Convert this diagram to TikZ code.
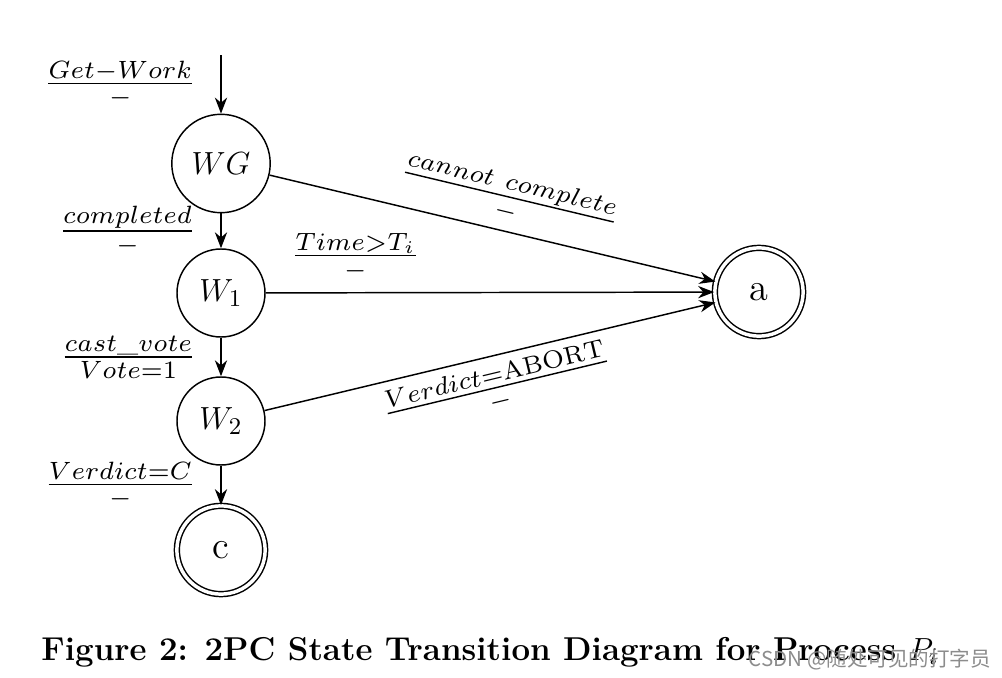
\documentclass[tikz,border=0pt]{standalone}
\usepackage{amsmath}
\usepackage{graphicx}
\usepackage{fontspec}
\newfontfamily\cjk{Noto Sans CJK SC}
\usetikzlibrary{arrows.meta}
\newcommand{\lab}[2]{\scalebox{1.34}{$\frac{#1}{#2}$}}
\begin{document}
\begin{tikzpicture}[x=0.375pt,y=-0.375pt,
  line width=0.55pt,
  >={Stealth[length=6pt,width=4.6pt]},
  state/.style={circle,draw,inner sep=0pt,minimum size=33pt},
  accept/.style={state,double,double distance=1.3pt,minimum size=33.1pt},
  lbl/.style={inner sep=0pt,font=\fontsize{10}{12}\selectfont},
  statefont/.style={font=\fontsize{13.2}{15}\selectfont}
]
\useasboundingbox (0,0) rectangle (1002,678);
\node[state,minimum size=36.9pt,statefont] (WG) at (221,163.5) {$WG$};
\node[state,statefont] (W1) at (221,293) {$W_1$};
\node[state,statefont] (W2) at (221,421) {$W_2$};
\node[accept,font=\Large] (c) at (221,550) {c};
\node[accept,font=\Large] (a) at (759,292) {a};
\coordinate (start) at (221,55);

\draw[->] (start) -- node[lbl,left=9pt] {\lab{Get-Work}{-}} (WG);
\draw[->] (WG) -- node[lbl,left=9pt] {\lab{completed}{-}} (W1);
\draw[->] (W1) -- node[lbl,left=9pt] {\lab{cast\_vote}{Vote=1}} (W2);
\draw[->] (W2) -- node[lbl,left=9pt] {\lab{Verdict=C}{-}} (c);

\draw[->] (WG) -- node[lbl,sloped,above=3.5pt,pos=.52] {\lab{cannot\ complete}{-}} (a);
\draw[->] (W1) -- node[lbl,above=4.5pt,pos=.2] {\lab{Time>T_i}{-}} (a);
\draw[->] (W2) -- node[lbl,sloped,below=3pt,pos=.5] {\lab{Verdict=\mathrm{ABORT}}{-}} (a);

\node[inner sep=0pt,anchor=base] (cap) at (490,660) {\fontsize{12.4}{15}\selectfont\bfseries Figure 2: 2PC State Transition Diagram for Process $P_i$};
\node[inner sep=0pt,anchor=base,text=black!45,font=\cjk\fontsize{7.7}{10}\selectfont] (wm) at (870,666) {CSDN @随处可见的打字员};
\end{tikzpicture}
\end{document}
